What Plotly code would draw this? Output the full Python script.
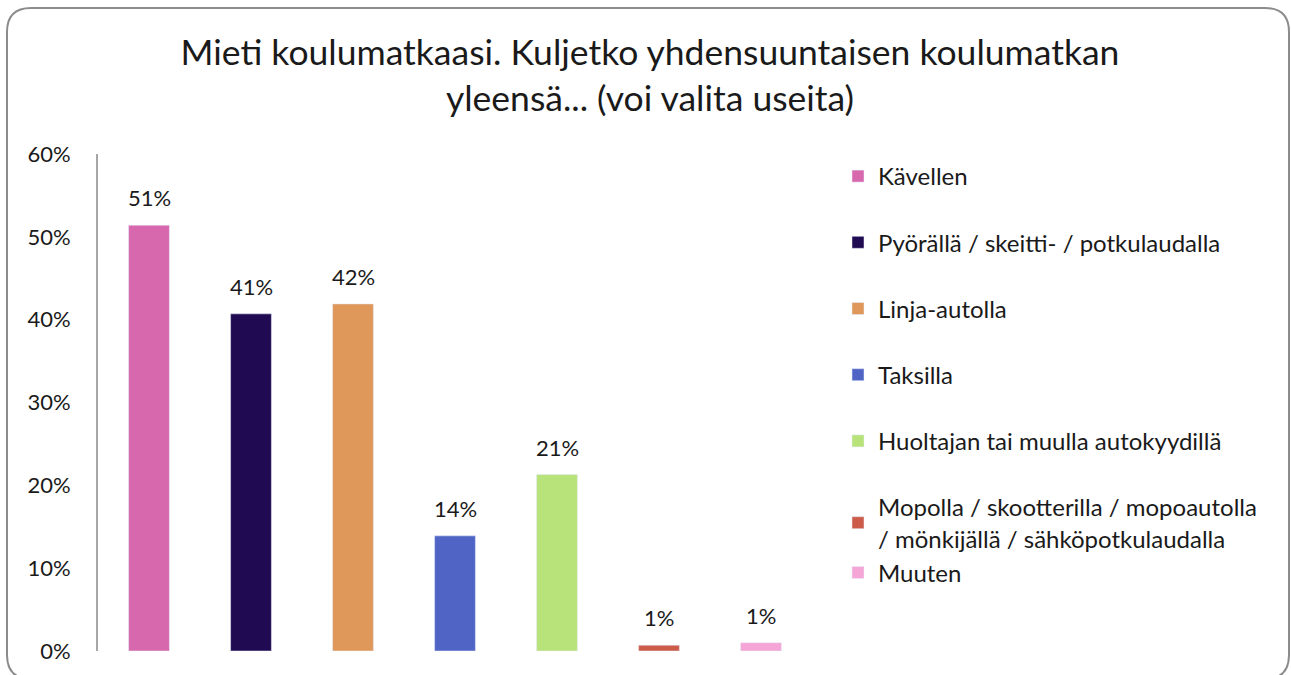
import plotly.graph_objects as go

# ---- data ----
categories = [
    "Kävellen",
    "Pyörällä / skeitti- / potkulaudalla",
    "Linja-autolla",
    "Taksilla",
    "Huoltajan tai muulla autokyydillä",
    "Mopolla / skootterilla / mopoautolla<br>/ mönkijällä / sähköpotkulaudalla",
    "Muuten",
]
values = [0.514, 0.407, 0.419, 0.139, 0.213, 0.007, 0.010]
colors = ["#D768AE", "#200A52", "#E0975A", "#5064C6", "#B8E27A", "#CD5B4A", "#F5A5D6"]
groups = ["g1", "g2", "g3", "g4", "g5", "g6", "g6"]
yticks = [0, 0.1, 0.2, 0.3, 0.4, 0.5, 0.6]
ytick_text = ["0%", "10%", "20%", "30%", "40%", "50%", "60%"]
title_text = "Mieti koulumatkaasi. Kuljetko yhdensuuntaisen koulumatkan<br>yleensä... (voi valita useita)"

FONT = "Lato, 'Open Sans', sans-serif"
W, H = 1291, 675
L, R, T, B = 98, 812, 154, 651  # plot area in pixels

fig = go.Figure()
for i, (name, v, c, g) in enumerate(zip(categories, values, colors, groups)):
    fig.add_trace(go.Bar(
        x=[i], y=[v], name=name, marker_color=c, width=0.4,
        legendgroup=g, showlegend=True,
    ))
    fig.add_annotation(
        x=i, y=v, text=f"{v:.0%}", showarrow=False, yanchor="bottom",
        yshift=12, font=dict(family=FONT, size=22, color="#1a1a1a"),
    )

# rounded chart border (decorative), expressed via pixel -> paper conversion
def px(xp):
    return (xp - L) / (R - L)

def py(yp):
    return (B - yp) / (B - T)

bl, br, bt, bb, r = 7, 1289, 8, 679, 24
path = (
    f"M {px(bl + r)},{py(bt)} L {px(br - r)},{py(bt)} "
    f"Q {px(br)},{py(bt)} {px(br)},{py(bt + r)} "
    f"L {px(br)},{py(bb - r)} Q {px(br)},{py(bb)} {px(br - r)},{py(bb)} "
    f"L {px(bl + r)},{py(bb)} Q {px(bl)},{py(bb)} {px(bl)},{py(bb - r)} "
    f"L {px(bl)},{py(bt + r)} Q {px(bl)},{py(bt)} {px(bl + r)},{py(bt)} Z"
)
fig.add_shape(type="path", xref="paper", yref="paper", path=path,
              line=dict(color="#8C8C8C", width=2), fillcolor="rgba(0,0,0,0)",
              layer="below")

fig.update_layout(
    width=W, height=H,
    margin=dict(l=L, r=W - R, t=T, b=H - B, pad=0),
    paper_bgcolor="white", plot_bgcolor="white",
    barmode="overlay",
    title=dict(text=title_text, x=650 / W, xref="container", xanchor="center",
               y=1 - 65 / H, yref="container", yanchor="top",
               font=dict(family=FONT, size=35.5, color="#1a1a1a")),
    font=dict(family=FONT, color="#1a1a1a"),
    xaxis=dict(range=[-0.5, 6.5], showticklabels=False, showline=False,
               showgrid=False, zeroline=False, ticks=""),
    yaxis=dict(range=[0, 0.6], tickvals=yticks, ticktext=ytick_text,
               showgrid=False, zeroline=False, showline=True,
               linecolor="#A6A6A6", linewidth=2, ticks="",
               ticklabelstandoff=21,
               tickfont=dict(family=FONT, size=22, color="#1a1a1a")),
    legend=dict(x=px(838), y=py(154), xanchor="left", yanchor="top",
                font=dict(family=FONT, size=24, color="#1a1a1a"),
                tracegroupgap=32, itemwidth=30, bgcolor="rgba(0,0,0,0)",
                traceorder="grouped"),
    showlegend=True,
)

fig.write_html("out.html", post_script="document.body.style.margin='0';",
               config={"displayModeBar": False})
